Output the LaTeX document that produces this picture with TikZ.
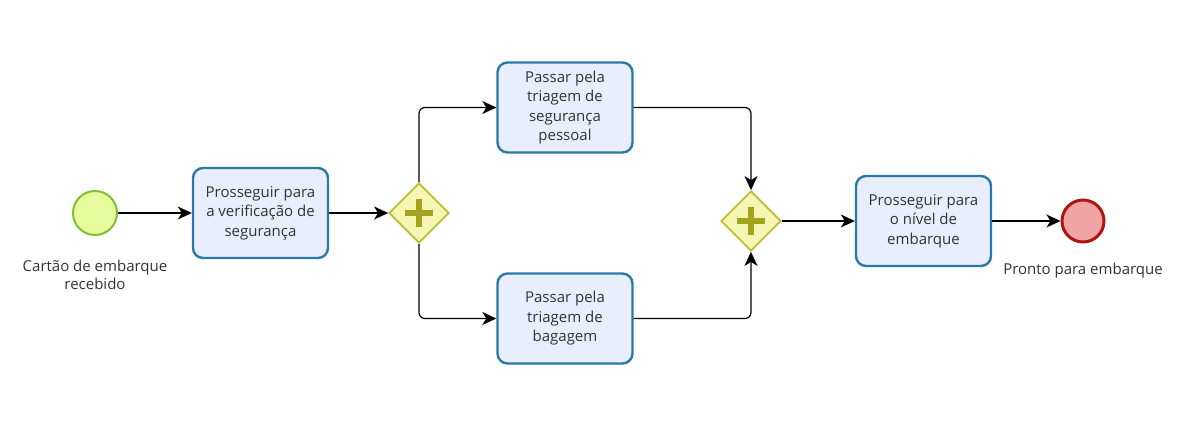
\documentclass[tikz,border=0pt]{standalone}
\usepackage{fontspec}
\setmainfont{Open Sans}
\usetikzlibrary{arrows.meta,shapes.geometric}
\definecolor{taskfill}{HTML}{E8EEFB}
\definecolor{taskdraw}{HTML}{2A78A8}
\definecolor{gwfill}{HTML}{F6F6B4}
\definecolor{gwdraw}{HTML}{BDBD35}
\definecolor{gwplus}{HTML}{A3A31E}
\definecolor{startfill}{HTML}{E6FB9C}
\definecolor{startdraw}{HTML}{7DC12E}
\definecolor{endfill}{HTML}{EFA3A3}
\definecolor{enddraw}{HTML}{AD1515}
\definecolor{txt}{HTML}{333333}
\tikzset{
  task/.style={draw=taskdraw, fill=taskfill, line width=2.4pt, rounded corners=10pt,
    minimum width=135pt, minimum height=90pt, align=center, text=txt,
    font=\fontsize{15}{19.5}\selectfont, inner sep=2pt},
  gw/.style={diamond, draw=gwdraw, fill=gwfill, line width=1.8pt, minimum width=60pt, minimum height=60pt, inner sep=0pt},
  startev/.style={circle, draw=startdraw, fill=startfill, line width=2pt, minimum size=44pt, inner sep=0pt},
  endev/.style={circle, draw=enddraw, fill=endfill, line width=3pt, minimum size=42pt, inner sep=0pt},
  lbl/.style={align=center, text=txt, font=\fontsize{15}{17.5}\selectfont},
  flow/.style={draw=black, line width=1.2pt, -{Stealth[length=14pt,width=13pt,inset=4pt]}, rounded corners=6pt},
  plusbar/.style={line width=6pt, draw=gwplus}
}
\newcommand{\gwplus}[1]{%
  \draw[plusbar] ([xshift=-14pt]#1.center) -- ([xshift=14pt]#1.center);
  \draw[plusbar] ([yshift=-14pt]#1.center) -- ([yshift=14pt]#1.center);}
\begin{document}
\begin{tikzpicture}[x=1pt,y=-1pt]
\useasboundingbox (0,0) rectangle (1187,440);
\node[startev] (s) at (95,213) {};
\node[lbl] (sl) at (95,275) {Cartão de embarque\\recebido};
\node[task] (t1) at (260.5,213) {Prosseguir para\\a verificação de\\segurança};
\node[gw] (g1) at (419,213) {};
\gwplus{g1}
\node[task] (t2) at (565,107.5) {Passar pela\\triagem de\\segurança\\pessoal};
\node[task] (t3) at (565,318.5) {Passar pela\\triagem de\\bagagem};
\node[gw] (g2) at (751,221) {};
\gwplus{g2}
\node[task] (t4) at (923.5,221) {Prosseguir para\\o nível de\\embarque};
\node[endev] (e) at (1083,221) {};
\node[lbl] (el) at (1083,271) {Pronto para embarque};
\draw[flow] (s) -- (t1);
\draw[flow] (t1) -- (g1);
\draw[flow] (g1.north) |- (t2.west);
\draw[flow] (g1.south) |- (t3.west);
\draw[flow] (t2.east) -| (g2.north);
\draw[flow] (t3.east) -| (g2.south);
\draw[flow] (g2.east) -- (t4.west);
\draw[flow] (t4.east) -- (e.west);
\end{tikzpicture}
\end{document}
